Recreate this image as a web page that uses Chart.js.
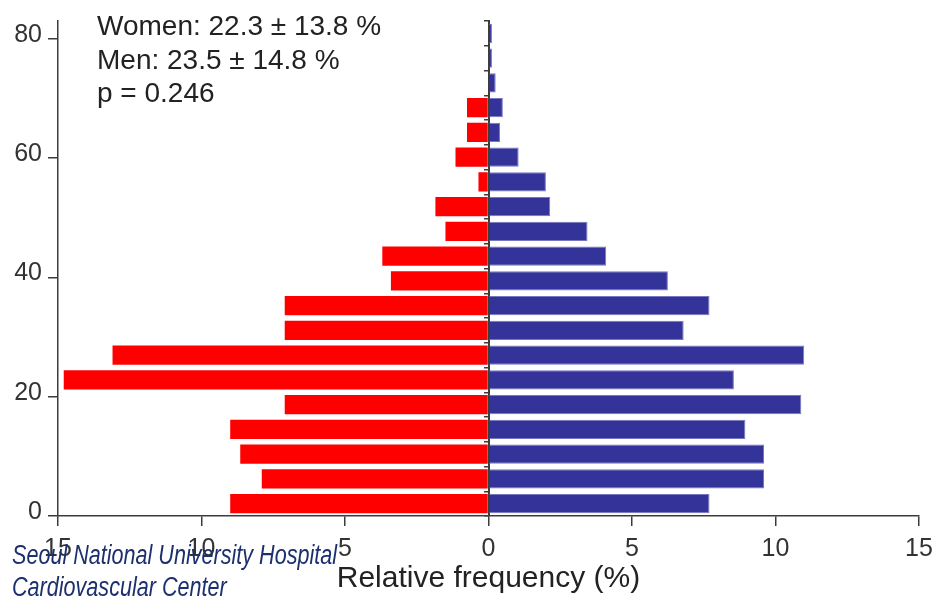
<!DOCTYPE html>
<html>
<head>
<meta charset="utf-8">
<script src="https://cdn.jsdelivr.net/npm/chart.js@4.4.1/dist/chart.umd.min.js"></script>
<style>
  body { margin: 0; background: #fff; }
</style>
</head>
<body>
<canvas id="pyramidChart" width="942" height="598"></canvas>
<script>
// Bins listed bottom to top
const bins = ['1', '2', '3', '4', '5', '6', '7', '8', '9', '10',
              '11', '12', '13', '14', '15', '16', '17', '18', '19', '20'];
const women = [9.0, 7.9, 8.65, 9.0, 7.1, 14.8, 13.1, 7.1, 7.1, 3.4,
               3.7, 1.5, 1.85, 0.35, 1.15, 0.75, 0.75, 0, 0, 0];
const men = [7.7, 9.6, 9.6, 8.95, 10.9, 8.55, 11.0, 6.8, 7.7, 6.25,
             4.1, 3.45, 2.15, 2.0, 1.05, 0.4, 0.5, 0.25, 0.12, 0.12];
const xTicks = [-15, -10, -5, 0, 5, 10, 15];
const yTicks = [0, 20, 40, 60, 80];
const statLines = ['Women: 22.3 \u00b1 13.8 %', 'Men: 23.5 \u00b1 14.8 %', 'p = 0.246'];
const footLines = ['Seoul National University Hospital', 'Cardiovascular Center'];

const axisColor = '#3c3c3c';
const textColor = '#222';
Chart.defaults.font.family = '"Liberation Sans", Arial, sans-serif';

// stats box and hospital name drawn on top of the chart
const textPlugin = {
    id: 'textPlugin',
    afterDraw(chart) {
        const ctx = chart.ctx;
        ctx.save();
        ctx.textBaseline = 'alphabetic';
        ctx.fillStyle = textColor;
        ctx.font = '28px "Liberation Sans", Arial, sans-serif';
        statLines.forEach((line, i) => ctx.fillText(line, 97, 35 + i * 33.5));

        ctx.fillStyle = '#1c2f6e';
        ctx.font = 'italic 27px "Liberation Sans Narrow", "Liberation Sans", Arial, sans-serif';
        const w = ctx.measureText(footLines[0]).width;
        const sx = Math.min(1, 325 / w);
        ctx.scale(sx, 1);
        footLines.forEach((line, i) => ctx.fillText(line, 12 / sx, 564 + i * 32));
        ctx.restore();
    }
};

new Chart(document.getElementById('pyramidChart'), {
    type: 'bar',
    data: {
        labels: bins,
        datasets: [{
            label: 'Women',
            data: women.map(v => -v),
            backgroundColor: '#ff0000',
            borderWidth: 0
        }, {
            label: 'Men',
            data: men,
            backgroundColor: '#333399',
            borderColor: '#7777bf',
            borderWidth: 1
        }]
    },
    options: {
        indexAxis: 'y',
        responsive: false,
        animation: false,
        categoryPercentage: 0.78,
        barPercentage: 1,
        layout: { padding: { top: 13.5, right: 23, left: 0, bottom: 0 } },
        plugins: {
            legend: { display: false },
            tooltip: { enabled: false }
        },
        scales: {
            x: {
                type: 'linear',
                stacked: true,
                min: -15,
                max: 15,
                afterBuildTicks: axis => { axis.ticks = xTicks.map(v => ({ value: v })); },
                afterFit: axis => { axis.height = 82; },
                grid: { drawOnChartArea: false, tickLength: 10, color: axisColor, lineWidth: 1.5 },
                border: { color: axisColor, width: 1.5 },
                ticks: {
                    callback: v => Math.abs(v),
                    font: { size: 25 },
                    color: '#333',
                    padding: 8,
                    maxRotation: 0
                },
                title: {
                    display: true,
                    text: 'Relative frequency (%)',
                    font: { size: 30 },
                    color: textColor,
                    padding: { top: 0, bottom: 1 }
                }
            },
            y: {
                type: 'category',
                stacked: true,
                reverse: true,
                position: { x: 0 },
                z: 1,
                ticks: { display: false },
                grid: { drawOnChartArea: false, tickLength: 4, color: axisColor, lineWidth: 1.5 },
                border: { color: axisColor, width: 2 }
            },
            yv: {
                type: 'linear',
                position: 'left',
                min: 0,
                max: 83,
                offset: false,
                afterBuildTicks: axis => { axis.ticks = yTicks.map(v => ({ value: v })); },
                afterFit: axis => { axis.width = 58; },
                grid: { offset: false, drawOnChartArea: false, tickLength: 10, color: axisColor, lineWidth: 1.5 },
                border: { color: axisColor, width: 1.5 },
                ticks: { font: { size: 25 }, color: '#333', padding: 6, labelOffset: -4 }
            }
        }
    },
    plugins: [textPlugin]
});
</script>
</body>
</html>
